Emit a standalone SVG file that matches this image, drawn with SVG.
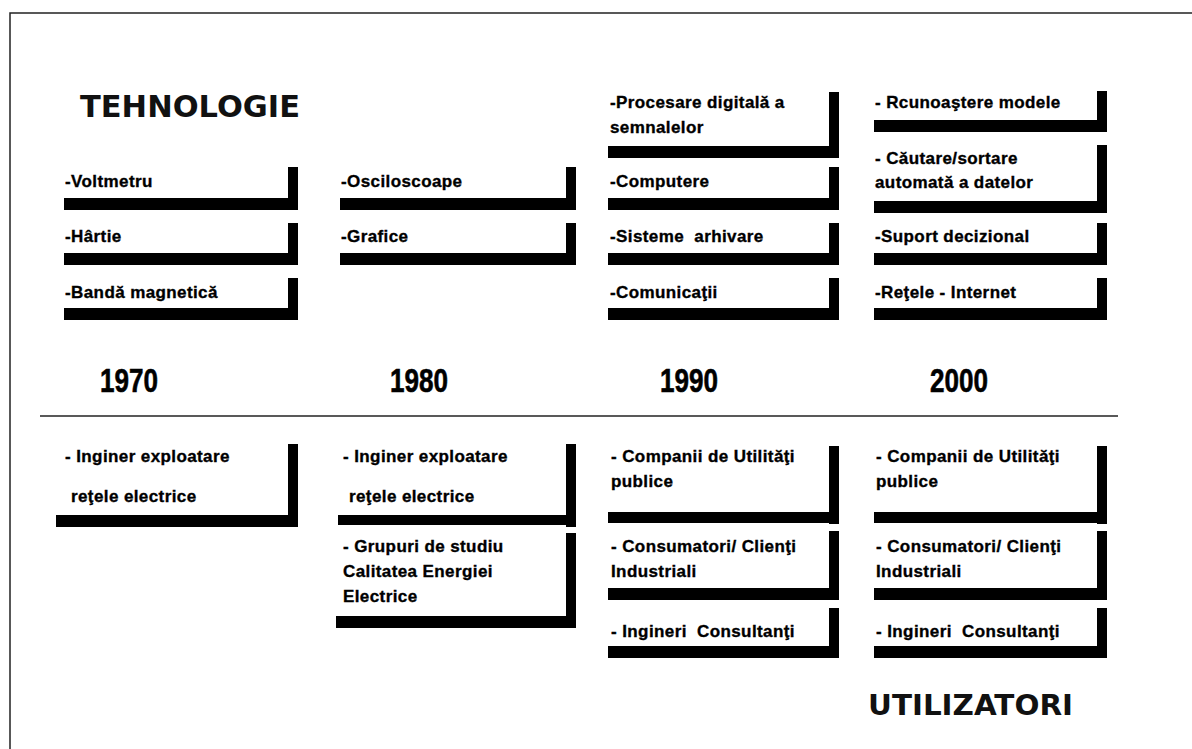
<svg xmlns="http://www.w3.org/2000/svg" width="1192" height="749" viewBox="0 0 1192 749">
<style>
.sh{fill:#000}
.bx{fill:#fff}
.t{font-family:"Liberation Sans",Arial,sans-serif;font-weight:bold;font-size:17px;fill:#000;stroke:#000;stroke-width:0.35;letter-spacing:0.4px}
.yr{font-family:"Liberation Sans",Arial,sans-serif;font-weight:bold;font-size:33px;fill:#000;stroke:#000;stroke-width:0.6}
.hd{font-family:"DejaVu Sans",Verdana,sans-serif;font-weight:bold;fill:#111}
.ln{stroke:#222;stroke-width:1.5;fill:none}
</style>
<rect width="1192" height="749" fill="#fff"/>
<g id="frame">
<path class="ln" d="M10,749 V13 H1192"/>
</g>
<g id="connectors">
<line class="ln" x1="40" y1="416" x2="1118" y2="416"/>
</g>
<g id="titles">
<text class="hd" x="80" y="117" font-size="30" textLength="220" lengthAdjust="spacingAndGlyphs">TEHNOLOGIE</text>
<text class="hd" x="868" y="715" font-size="29" textLength="205" lengthAdjust="spacingAndGlyphs">UTILIZATORI</text>
<text class="yr" x="100" y="392" textLength="58" lengthAdjust="spacingAndGlyphs">1970</text>
<text class="yr" x="390" y="392" textLength="58" lengthAdjust="spacingAndGlyphs">1980</text>
<text class="yr" x="660" y="392" textLength="58" lengthAdjust="spacingAndGlyphs">1990</text>
<text class="yr" x="930" y="392" textLength="58" lengthAdjust="spacingAndGlyphs">2000</text>
</g>
<!-- Column 1 top -->
<g id="n-voltmetru"><rect class="sh" x="64" y="167" width="234" height="43"/><rect class="bx" x="56" y="159" width="232" height="39"/><text class="t" x="65" y="187">-Voltmetru</text></g>
<g id="n-hartie"><rect class="sh" x="64" y="223" width="234" height="42"/><rect class="bx" x="56" y="215" width="232" height="38"/><text class="t" x="65" y="242">-Hârtie</text></g>
<g id="n-banda"><rect class="sh" x="64" y="278" width="234" height="42"/><rect class="bx" x="56" y="270" width="232" height="38"/><text class="t" x="65" y="298">-Bandă magnetică</text></g>
<!-- Column 2 top -->
<g id="n-osciloscoape"><rect class="sh" x="340" y="167" width="236" height="43"/><rect class="bx" x="332" y="159" width="234" height="39"/><text class="t" x="341" y="187">-Osciloscoape</text></g>
<g id="n-grafice"><rect class="sh" x="340" y="223" width="236" height="42"/><rect class="bx" x="332" y="215" width="234" height="38"/><text class="t" x="341" y="242">-Grafice</text></g>
<!-- Column 3 top -->
<g id="n-procesare"><rect class="sh" x="608" y="92" width="231" height="66"/><rect class="bx" x="600" y="84" width="229" height="62"/><text class="t" x="610" y="108">-Procesare digitală a</text><text class="t" x="610" y="133">semnalelor</text></g>
<g id="n-computere"><rect class="sh" x="608" y="167" width="231" height="43"/><rect class="bx" x="600" y="159" width="229" height="39"/><text class="t" x="610" y="187">-Computere</text></g>
<g id="n-sisteme"><rect class="sh" x="608" y="223" width="231" height="42"/><rect class="bx" x="600" y="215" width="229" height="38"/><text class="t" x="610" y="242" xml:space="preserve">-Sisteme  arhivare</text></g>
<g id="n-comunicatii"><rect class="sh" x="608" y="278" width="231" height="42"/><rect class="bx" x="600" y="270" width="229" height="38"/><text class="t" x="610" y="298">-Comunicaţii</text></g>
<!-- Column 4 top -->
<g id="n-recunoastere"><rect class="sh" x="874" y="91" width="233" height="41"/><rect class="bx" x="866" y="83" width="231" height="37"/><text class="t" x="875" y="108">- Rcunoaştere modele</text></g>
<g id="n-cautare"><rect class="sh" x="874" y="145" width="233" height="68"/><rect class="bx" x="866" y="137" width="231" height="64"/><text class="t" x="875" y="164">- Căutare/sortare</text><text class="t" x="875" y="188">automată a datelor</text></g>
<g id="n-suport"><rect class="sh" x="874" y="223" width="233" height="42"/><rect class="bx" x="866" y="215" width="231" height="38"/><text class="t" x="875" y="242">-Suport decizional</text></g>
<g id="n-retele"><rect class="sh" x="874" y="278" width="233" height="42"/><rect class="bx" x="866" y="270" width="231" height="38"/><text class="t" x="875" y="298">-Reţele - Internet</text></g>
<!-- Bottom column 1 -->
<g id="n-inginer1"><rect class="sh" x="56" y="444" width="242" height="83"/><rect class="bx" x="48" y="436" width="240" height="79"/><text class="t" x="65" y="462">- Inginer exploatare</text><text class="t" x="71" y="502">reţele electrice</text></g>
<!-- Bottom column 2 -->
<g id="n-inginer2"><rect class="sh" x="338" y="444" width="238" height="83"/><rect class="bx" x="330" y="436" width="236" height="79"/><text class="t" x="343" y="462">- Inginer exploatare</text><text class="t" x="349" y="502">reţele electrice</text></g>
<g id="n-grupuri"><rect class="sh" x="336" y="533" width="240" height="95"/><rect class="bx" x="328" y="525" width="238" height="91"/><text class="t" x="343" y="552">- Grupuri de studiu</text><text class="t" x="343" y="577">Calitatea Energiei</text><text class="t" x="343" y="602">Electrice</text></g>
<!-- Bottom column 3 -->
<g id="n-companii3"><rect class="sh" x="608" y="446" width="231" height="78"/><rect class="bx" x="600" y="438" width="229" height="74"/><text class="t" x="611" y="462">- Companii de Utilităţi</text><text class="t" x="611" y="487">publice</text></g>
<g id="n-consumatori3"><rect class="sh" x="608" y="531" width="231" height="69"/><rect class="bx" x="600" y="523" width="229" height="65"/><text class="t" x="611" y="552">- Consumatori/ Clienţi</text><text class="t" x="611" y="577">Industriali</text></g>
<g id="n-ingineri3"><rect class="sh" x="608" y="608" width="231" height="50"/><rect class="bx" x="600" y="600" width="229" height="46"/><text class="t" x="611" y="637" xml:space="preserve">- Ingineri  Consultanţi</text></g>
<!-- Bottom column 4 -->
<g id="n-companii4"><rect class="sh" x="874" y="446" width="233" height="78"/><rect class="bx" x="866" y="438" width="231" height="74"/><text class="t" x="876" y="462">- Companii de Utilităţi</text><text class="t" x="876" y="487">publice</text></g>
<g id="n-consumatori4"><rect class="sh" x="874" y="531" width="233" height="69"/><rect class="bx" x="866" y="523" width="231" height="65"/><text class="t" x="876" y="552">- Consumatori/ Clienţi</text><text class="t" x="876" y="577">Industriali</text></g>
<g id="n-ingineri4"><rect class="sh" x="874" y="608" width="233" height="50"/><rect class="bx" x="866" y="600" width="231" height="46"/><text class="t" x="876" y="637" xml:space="preserve">- Ingineri  Consultanţi</text></g>
</svg>
